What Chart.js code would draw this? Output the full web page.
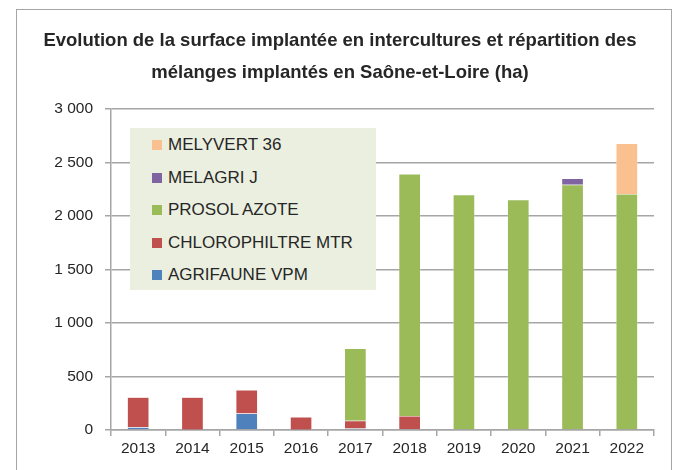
<!DOCTYPE html>
<html>
<head>
    <title>Intercultures Saône-et-Loire</title>
    <script src="https://cdn.jsdelivr.net/npm/chart.js"></script>
    <style>
        body { margin: 0; background: #fff; }
        #wrap { position: relative; width: 680px; height: 470px; }
        #frame { position: absolute; left: 16px; top: 9px; width: 656px; height: 480px;
                 border: 1.5px solid #a6a6a6; box-sizing: border-box; }
        #legend { position: absolute; left: 130px; top: 128px; width: 246px; height: 162px;
                  background: #ebefdf; font-family: 'Liberation Sans', Arial, sans-serif;
                  font-size: 17px; color: #262626; }
        .item { position: absolute; left: 22px; height: 20px; line-height: 20px; }
        .item span.box { display: inline-block; width: 10px; height: 10px; margin-right: 6px; vertical-align: 0px; }
    </style>
</head>
<body>
<div id="wrap">
    <div id="frame"></div>
    <canvas id="myChart" width="680" height="470"></canvas>
    <div id="legend"></div>
</div>
<script>
    // years and surfaces (ha)
    const years = ['2013', '2014', '2015', '2016', '2017', '2018', '2019', '2020', '2021', '2022'];
    const agrifaune = [25, 3, 155, 3, 15, 0, 0, 0, 0, 0];
    const chlorophiltre = [281, 303, 218, 118, 72, 130, 0, 0, 0, 0];
    const prosol = [0, 0, 0, 0, 674, 2262, 2199, 2152, 2292, 2206];
    const melagri = [0, 0, 0, 0, 0, 0, 0, 0, 59, 0];
    const melyvert = [0, 0, 0, 0, 0, 0, 0, 0, 0, 471];
    const yTicks = [0, 500, 1000, 1500, 2000, 2500, 3000];

    const font = "'Liberation Sans', Arial, sans-serif";

    const datasets = [
        { label: 'AGRIFAUNE VPM', data: agrifaune, backgroundColor: '#4f81bd' },
        { label: 'CHLOROPHILTRE MTR', data: chlorophiltre, backgroundColor: '#c0504d' },
        { label: 'PROSOL AZOTE', data: prosol, backgroundColor: '#9bbb59' },
        { label: 'MELAGRI J', data: melagri, backgroundColor: '#8064a2' },
        { label: 'MELYVERT 36', data: melyvert, backgroundColor: '#fac090' }
    ];
    datasets.forEach(d => {
        d.borderColor = 'rgba(255,255,255,0.5)';
        d.borderWidth = 0.5;
        d.barPercentage = 0.5;
        d.categoryPercentage = 0.8;
    });

    // legend, in reverse order like the original
    const legend = document.getElementById('legend');
    datasets.slice().reverse().forEach((d, i) => {
        const el = document.createElement('div');
        el.className = 'item';
        el.style.top = (7 + i * 32.5) + 'px';
        el.innerHTML = '<span class="box" style="background:' + d.backgroundColor + '"></span>' + d.label;
        legend.appendChild(el);
    });

    const chart = new Chart(document.getElementById('myChart'), {
        type: 'bar',
        data: { labels: years, datasets: datasets },
        options: {
            responsive: false,
            animation: false,
            layout: { padding: { left: 26, right: 26, top: 21, bottom: 0 } },
            plugins: {
                legend: { display: false },
                tooltip: { enabled: false },
                title: {
                    display: true,
                    text: ['Evolution de la surface implantée en intercultures et répartition des',
                           'mélanges implantés en Saône-et-Loire (ha)'],
                    color: '#262626',
                    font: { family: font, size: 18.5, weight: 'bold', lineHeight: 1.73 },
                    padding: { top: 4, bottom: 20 }
                }
            },
            scales: {
                x: {
                    stacked: true,
                    grid: { drawOnChartArea: false, drawTicks: true, tickLength: 6, color: '#a6a6a6', lineWidth: 1.5 },
                    border: { color: '#a6a6a6', width: 1.5 },
                    ticks: { color: '#262626', font: { family: font, size: 15.5 }, padding: 3 },
                    afterFit: s => { s.height = 40; }
                },
                y: {
                    stacked: true,
                    min: 0, max: 3000,
                    afterBuildTicks: s => { s.ticks = yTicks.map(v => ({ value: v })); },
                    grid: { color: '#a6a6a6', lineWidth: 1.5, tickLength: 6 },
                    border: { color: '#a6a6a6', width: 1.5 },
                    ticks: {
                        color: '#262626', font: { family: font, size: 15.5 }, padding: 12,
                        callback: v => v.toLocaleString('fr-FR').replace(/\s/g, ' ')
                    },
                    afterFit: s => { s.width = 85; }
                }
            }
        }
    });
</script>
</body>
</html>
